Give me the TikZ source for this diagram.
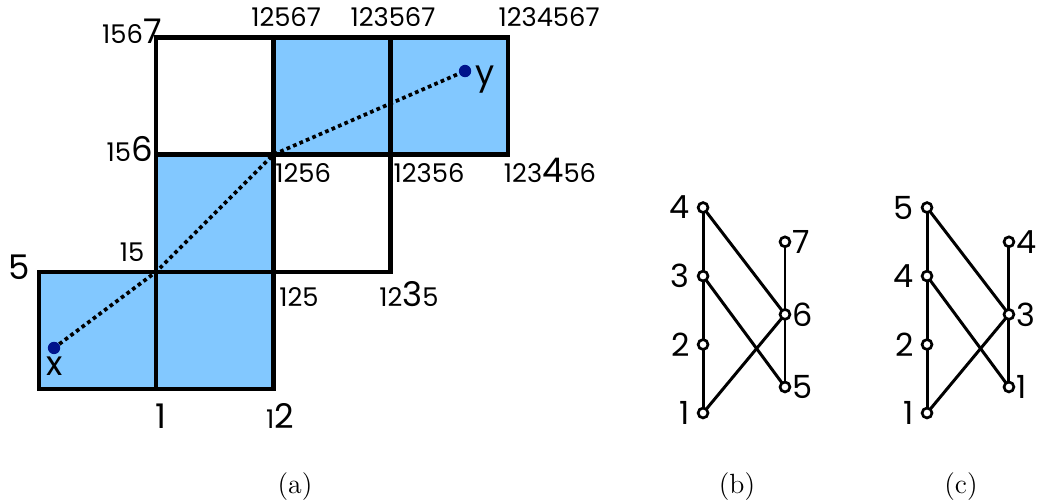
\documentclass[tikz,border=0pt]{standalone}
\usepackage{fontspec}
\usepackage{xcolor}
\usepackage{tikz}
\usetikzlibrary{positioning}
\newfontfamily\lblfont{Poppins}
\newcommand{\bigd}[1]{{\fontsize{16.5}{18}\selectfont #1}}
\definecolor{cellblue}{RGB}{130,200,255}
\definecolor{dotnavy}{RGB}{0,20,140}

\begin{document}
\begin{tikzpicture}[
    x=2cm, y=2cm,
    node distance=1cm,
    cell/.style={draw=black, line width=2.2pt},
    bluecell/.style={cell, fill=cellblue},
    lab/.style={font=\lblfont\fontsize{12.5}{14}\selectfont, inner sep=0pt, anchor=base},
    pt/.style={circle, fill=dotnavy, inner sep=0pt, minimum size=6pt},
    walk/.style={line width=1.8pt, dash pattern=on 1.8pt off 1.6pt},
    vtx/.style={circle, draw=black, fill=white, line width=1.3pt, minimum size=4.8pt, inner sep=0pt, outer sep=0pt},
    link/.style={line width=1.45pt},
    plab/.style={font=\lblfont\fontsize{15.5}{17}\selectfont, inner sep=1pt},
    plabl/.style={plab, xshift=-3pt},
    capt/.style={font=\fontsize{13.5}{15}\selectfont},
]
\useasboundingbox (-0.333,-0.981) rectangle (8.541,3.319);

% (a): the cells
\draw[bluecell] (0,0) rectangle (1,1);
\draw[bluecell] (1,0) rectangle (2,1);
\draw[bluecell] (1,1) rectangle (2,2);
\draw[cell] (2,1) rectangle (3,2);
\draw[cell] (1,2) rectangle (2,3);
\draw[bluecell] (2,2) rectangle (3,3);
\draw[bluecell] (3,2) rectangle (4,3);

\coordinate (c11) at (1,1);
\coordinate (c22) at (2,2);

% corner labels
\node[lab, anchor=base east] (l1567) at (1.049,2.944) {156\bigd{7}};
\node[lab] (l12567) at (2.108,3.097) {12567};
\node[lab] (l123567) at (3.020,3.097) {123567};
\node[lab] (l1234567) at (4.352,3.097) {1234567};
\node[lab, anchor=base east] (l156) at (0.973,1.937) {15\bigd{6}};
\node[lab] (l1256) at (2.253,1.758) {1256};
\node[lab] (l12356) at (3.328,1.758) {12356};
\node[lab] (l123456) at (4.360,1.758) {123\bigd{4}56};
\node[lab] (l15) at (0.794,1.084) {15};
\node[lab] (l5) at (-0.171,0.930) {\bigd{5}};
\node[lab] (l125) at (2.218,0.708) {125};
\node[lab] (l1235) at (3.157,0.700) {12\bigd{3}5};
\node[lab] (l1) at (1.041,-0.333) {\bigd{1}};
\node[lab] (l12) at (2.056,-0.333) {1\bigd{2}};

% points x and y
\node[pt] (ptx) at (0.128,0.350) {};
\node[pt] (pty) at (3.635,2.713) {};
\node[lab] (lx) at (0.137,0.119) {\bigd{x}};
\node[lab] (ly) at (3.805,2.602) {\bigd{y}};
\draw[walk] (ptx) -- (c11) -- (c22) -- (pty);

% (b)
\node[vtx, label={[plabl]left:1}] (b1) at (5.666,-0.205) {};
\node[vtx, above=of b1, label={[plabl]left:2}] (b2) {};
\node[vtx, above=of b2, label={[plabl]left:3}] (b3) {};
\node[vtx, above=of b3, label={[plabl]left:4}] (b4) {};
\node[vtx, label={[plab]right:5}] (b5) at (6.365,0.017) {};
\node[vtx, above=1.07cm of b5, label={[plab]right:6}] (b6) {};
\node[vtx, above=1.07cm of b6, label={[plab]right:7}] (b7) {};

\draw[link] (b1) -- (b2);
\draw[link] (b2) -- (b3);
\draw[link] (b3) -- (b4);
\draw[link] (b5) -- (b6);
\draw[link] (b6) -- (b7);
\draw[link] (b4) -- (b6);
\draw[link] (b3) -- (b5);
\draw[link] (b1) -- (b6);

% (c)
\node[vtx, label={[plabl]left:1}] (c1) at (7.577,-0.205) {};
\node[vtx, above=of c1, label={[plabl]left:2}] (c2) {};
\node[vtx, above=of c2, label={[plabl]left:4}] (c3) {};
\node[vtx, above=of c3, label={[plabl]left:5}] (c4) {};
\node[vtx, label={[plab]right:1}] (c5) at (8.276,0.017) {};
\node[vtx, above=1.07cm of c5, label={[plab]right:3}] (c6) {};
\node[vtx, above=1.07cm of c6, label={[plab]right:4}] (c7) {};

\draw[link] (c1) -- (c2);
\draw[link] (c2) -- (c3);
\draw[link] (c3) -- (c4);
\draw[link] (c5) -- (c6);
\draw[link] (c6) -- (c7);
\draw[link] (c4) -- (c6);
\draw[link] (c3) -- (c5);
\draw[link] (c1) -- (c6);

% captions
\node[capt] (capa) at (2.184,-0.836) {(a)};
\node[capt] (capb) at (5.956,-0.836) {(b)};
\node[capt] (capc) at (7.867,-0.836) {(c)};

\end{tikzpicture}
\end{document}
